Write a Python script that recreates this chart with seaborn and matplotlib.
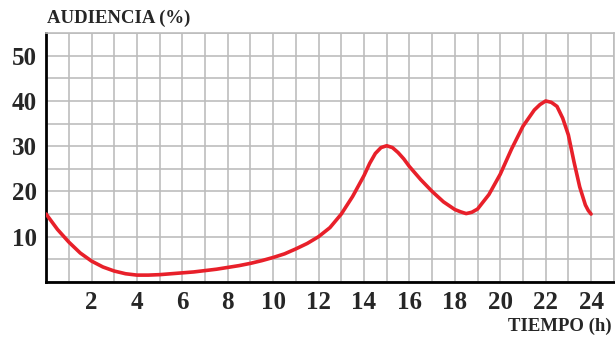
import numpy as np
import matplotlib
matplotlib.use("Agg")
import matplotlib.pyplot as plt
import seaborn as sns
from matplotlib.ticker import MultipleLocator

# valores (cada media hora, mas puntos en los picos)
hours = [0, 0.5, 1, 1.5, 2, 2.5, 3, 3.5, 4, 4.5, 5, 5.5, 6, 6.5, 7, 7.5, 8, 8.5,
         9, 9.5, 10, 10.5, 11, 11.5, 12, 12.5, 13, 13.5, 14, 14.25, 14.5, 14.75,
         15, 15.25, 15.5, 15.75, 16, 16.5, 17, 17.5, 18, 18.25, 18.5, 18.75,
         19, 19.5, 20, 20.5, 21, 21.5, 21.75, 22, 22.25, 22.5, 22.75, 23,
         23.25, 23.5, 23.75, 23.875, 24]
audience = [15.0, 11.6, 8.8, 6.4, 4.6, 3.3, 2.4, 1.8, 1.5, 1.5, 1.6, 1.8, 2.0,
            2.2, 2.5, 2.8, 3.2, 3.6, 4.1, 4.7, 5.4, 6.2, 7.3, 8.5, 10.0, 12.0,
            15.0, 18.9, 23.5, 26.2, 28.4, 29.7, 30.1, 29.7, 28.6, 27.2, 25.5,
            22.6, 20.0, 17.7, 16.0, 15.5, 15.1, 15.4, 16.1, 19.3, 23.8, 29.4,
            34.4, 38.0, 39.2, 40.0, 39.7, 38.8, 36.2, 32.5, 26.5, 21.0, 17.0,
            15.8, 15.0]

x_ticks = [2, 4, 6, 8, 10, 12, 14, 16, 18, 20, 22, 24]
y_ticks = [10, 20, 30, 40, 50]

sns.set_style("white")
plt.rcParams["font.family"] = ["Liberation Serif", "DejaVu Serif"]
plt.rcParams["font.weight"] = "bold"

fig = plt.figure(figsize=(6.15, 3.38), dpi=100)
ax = fig.add_axes([0.075, 0.166, 0.923, 0.736])

sns.lineplot(x=hours, y=audience, ax=ax, color="#e8202a", linewidth=2.6,
             sort=False, zorder=3)
ax.lines[0].set_solid_joinstyle("round")
ax.lines[0].set_solid_capstyle("round")

ax.set_xlim(0, 25)
ax.set_ylim(0, 55)
ax.set_xticks(x_ticks)
ax.set_yticks(y_ticks)
ax.xaxis.set_minor_locator(MultipleLocator(1))
ax.yaxis.set_minor_locator(MultipleLocator(5))
ax.grid(which="both", color="#bdbdbd", linewidth=1.2)
ax.set_axisbelow(True)

ax.tick_params(axis="both", which="major", direction="inout", length=7,
               width=1.6, color="black", labelsize=18, pad=3)
ax.tick_params(axis="both", which="minor", length=0)
for lab in ax.get_xticklabels() + ax.get_yticklabels():
    lab.set_fontweight("bold")

for side in ["left", "bottom"]:
    ax.spines[side].set_color("black")
    ax.spines[side].set_linewidth(2)
for side in ["top", "right"]:
    ax.spines[side].set_color("#bdbdbd")
    ax.spines[side].set_linewidth(1.2)

ax.set_xlabel("")
ax.set_ylabel("")
fig.text(0.077, 0.945, "AUDIENCIA (%)", fontsize=13.5, fontweight="bold",
         ha="left", va="center")
fig.text(0.995, 0.035, "TIEMPO (h)", fontsize=13.5, fontweight="bold",
         ha="right", va="center")

fig.savefig("out.png", dpi=100)
